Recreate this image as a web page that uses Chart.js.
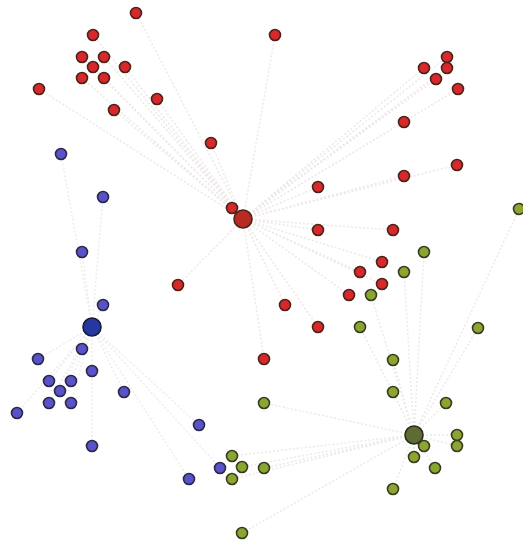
<!DOCTYPE html>
<html>
<head>
<meta charset="utf-8">
<script src="https://cdn.jsdelivr.net/npm/chart.js@4/dist/chart.umd.min.js"></script>
<style>
html,body{margin:0;padding:0;background:#fff;}
#wrap{width:523px;height:545px;}
</style>
</head>
<body>
<div id="wrap"><canvas id="c" width="523" height="545"></canvas></div>
<script>
// Cluster hubs
const redHub = [[243, 219]];
const blueHub = [[92, 327]];
const greenHub = [[414, 435]];

// Cluster members
const redNodes = [
  [136,13],[93,35],[82,57],[104,57],[93,67],[125,67],[82,78],[104,78],[39,89],
  [157,99],[114,110],[211,143],[232,208],[275,35],[447,57],[424,68],[447,68],
  [436,79],[458,89],[404,122],[457,165],[404,176],[318,187],[318,230],[393,230],
  [382,262],[360,272],[382,284],[349,295],[178,285],[285,305],[318,327],[264,359]
];
const blueNodes = [
  [61,154],[103,197],[82,252],[103,305],[82,349],[38,359],[92,371],[49,381],
  [71,381],[60,391],[49,403],[71,403],[124,392],[17,413],[199,425],[92,446],
  [220,468],[189,479]
];
const greenNodes = [
  [519,209],[424,252],[404,272],[371,295],[360,327],[478,328],[393,360],[393,392],
  [264,403],[446,403],[424,446],[457,435],[457,446],[414,457],[435,468],[264,468],
  [393,489],[232,456],[242,467],[232,479],[242,533]
];

const toPts = arr => arr.map(p => ({x: p[0], y: p[1]}));
function edges(hub, nodes) {
  const out = [];
  nodes.forEach(n => {
    out.push({x: hub[0][0], y: hub[0][1]});
    out.push({x: n[0], y: n[1]});
    out.push({x: null, y: null});
  });
  return out;
}
const edgeStyle = (data, color) => ({
  type: 'line', data, showLine: true, spanGaps: false, pointRadius: 0,
  borderColor: color, borderWidth: 1.5, borderDash: [2, 2], fill: false, order: 10
});
const nodeStyle = (data, fill, r, border) => ({
  type: 'scatter', data, pointRadius: r, pointHoverRadius: r,
  backgroundColor: fill, borderColor: border, borderWidth: 1.6, order: 1
});

new Chart(document.getElementById('c'), {
  type: 'scatter',
  data: {
    datasets: [
      edgeStyle(edges(redHub, redNodes), 'rgba(205,185,185,0.35)'),
      edgeStyle(edges(blueHub, blueNodes), 'rgba(195,195,205,0.3)'),
      edgeStyle(edges(greenHub, greenNodes), 'rgba(195,195,185,0.35)'),
      nodeStyle(toPts(redNodes), '#d8282c', 5.5, '#4a2418'),
      nodeStyle(toPts(blueNodes), '#5a52c8', 5.5, '#2a2a48'),
      nodeStyle(toPts(greenNodes), '#8aa630', 5.5, '#3a3a20'),
      nodeStyle(toPts(redHub), '#b82a22', 9, '#4a2418'),
      nodeStyle(toPts(blueHub), '#2438a0', 9, '#1a1a38'),
      nodeStyle(toPts(greenHub), '#5e6c34', 9, '#2a2a20')
    ]
  },
  options: {
    responsive: false,
    animation: false,
    layout: {padding: 0, autoPadding: false},
    plugins: {legend: {display: false}, tooltip: {enabled: false}},
    scales: {
      x: {type: 'linear', min: 0, max: 523, display: false},
      y: {type: 'linear', min: 0, max: 545, reverse: true, display: false}
    }
  }
});
</script>
</body>
</html>
